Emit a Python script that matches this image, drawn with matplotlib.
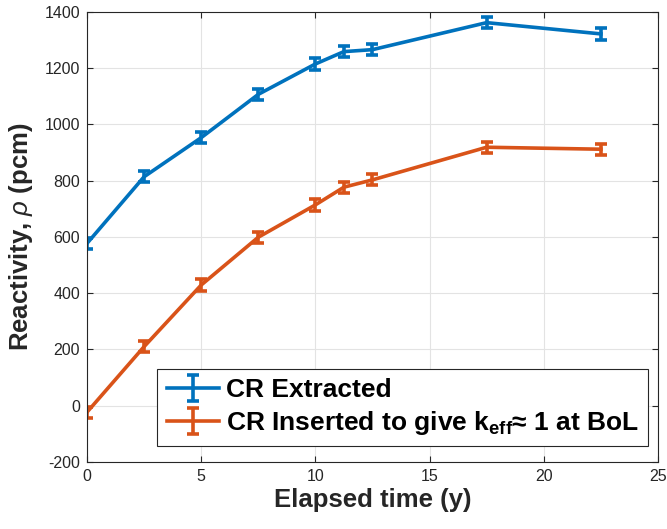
import numpy as np
import matplotlib
matplotlib.use("Agg")
import matplotlib.pyplot as plt

plt.rcParams['font.family'] = ['Liberation Sans', 'DejaVu Sans']
plt.rcParams['mathtext.fontset'] = 'custom'
plt.rcParams['mathtext.rm'] = 'Liberation Sans:bold'
plt.rcParams['mathtext.bf'] = 'Liberation Sans:bold'
plt.rcParams['mathtext.it'] = 'Liberation Sans:italic'
plt.rcParams['axes.unicode_minus'] = False

# data
years = [0, 2.5, 5, 7.5, 10, 11.25, 12.5, 17.5, 22.5]
extracted = [577, 814, 953, 1107, 1215, 1259, 1266, 1362, 1322]
extracted_err = [20, 20, 20, 20, 20, 20, 20, 20, 20]
inserted = [-23, 210, 429, 599, 714, 777, 803, 919, 912]
inserted_err = [20, 20, 20, 20, 20, 20, 20, 20, 20]

blue = '#0072BD'
orange = '#D95319'

fig = plt.figure(figsize=(6.67, 5.29), dpi=100)
ax = fig.add_axes([0.1304, 0.1267, 0.856, 0.8507])

ax.errorbar(years, extracted, yerr=extracted_err, color=blue, lw=2.6,
            elinewidth=2.6, capsize=4, capthick=2.6, label='CR Extracted')
ax.errorbar(years, inserted, yerr=inserted_err, color=orange, lw=2.6,
            elinewidth=2.6, capsize=4, capthick=2.6,
            label=r'CR Inserted to give k$_{\mathbf{eff}}$≈ 1 at BoL')

ax.set_xlim(0, 25)
ax.set_ylim(-200, 1400)
ax.set_xticks(np.arange(0, 26, 5))
ax.set_yticks(np.arange(-200, 1401, 200))
ax.grid(True, color='#e3e3e3', lw=0.8)
ax.set_axisbelow(True)
ax.tick_params(direction='in', top=True, right=True, labelsize=11.5,
               colors='#262626', length=4, pad=5)
for s in ax.spines.values():
    s.set_color('#262626')
    s.set_linewidth(0.8)

ax.set_xlabel('Elapsed time (y)', fontsize=18.5, fontweight='bold', color='#262626', labelpad=3)
ax.set_ylabel(r'Reactivity, $\rho$ (pcm)', fontsize=18.5, fontweight='bold', color='#262626', labelpad=7)

leg = ax.legend(loc='lower right', bbox_to_anchor=(0.983, 0.035),
                prop={'size': 19, 'weight': 'bold'}, fancybox=False,
                edgecolor='#262626', framealpha=1, handlelength=2.0,
                handletextpad=0.25, borderpad=0.35, labelspacing=0.25,
                borderaxespad=0)
leg.get_frame().set_linewidth(0.8)

fig.savefig('out.png', dpi=100)
